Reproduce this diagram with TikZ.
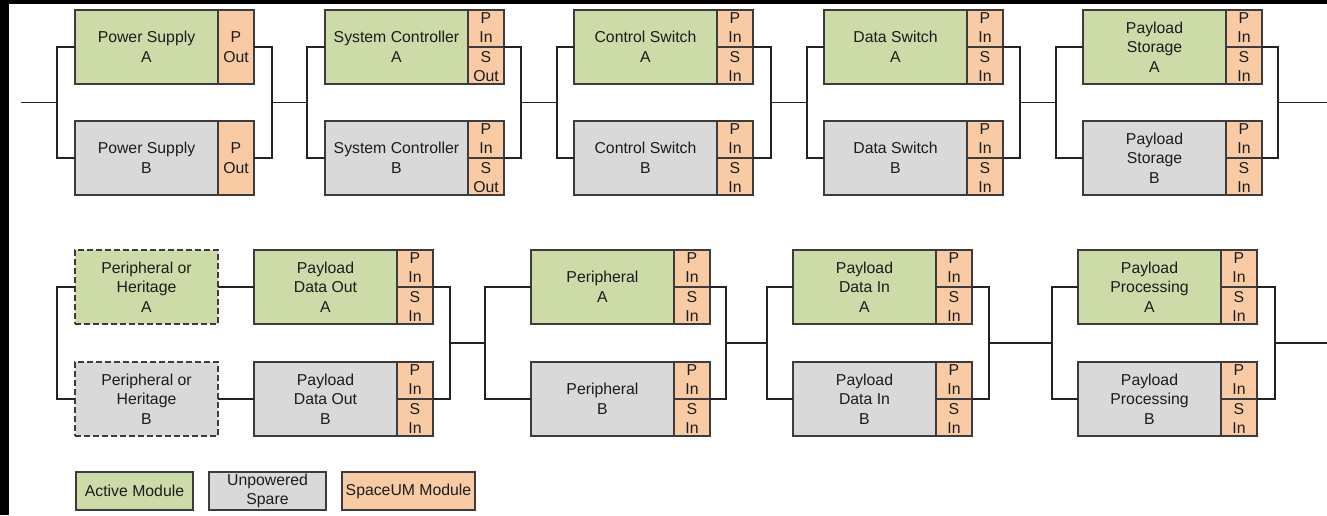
\documentclass[tikz,border=0pt]{standalone}
\usepackage{fontspec}
\setmainfont{Liberation Sans}
\definecolor{actg}{RGB}{204,219,168}
\definecolor{sprg}{RGB}{217,217,217}
\definecolor{umo}{RGB}{248,203,164}
\definecolor{edge}{RGB}{60,60,60}
\definecolor{wirec}{RGB}{35,35,35}
\definecolor{txt}{RGB}{28,28,28}
% module body + orange SpaceUM strip attached on its right
\newcommand\modbox[6]{%
  \node[#4] (#1) at (#2,#3) {#5};
  \node[um] (#1o) at (#1.north east) {#6};}
% divider line of a split SpaceUM strip
\newcommand\umsplit[1]{\draw[edge, line width=1.3pt] (#1o.west) -- (#1o.east);}
\begin{document}
\begin{tikzpicture}[x=1pt,y=-1pt,
  every node/.style={inner sep=0pt, outer sep=0pt, text=txt},
  mod/.style={draw=edge, line width=1.3pt, minimum width=143pt, minimum height=74pt,
    anchor=north west, align=center, font=\fontsize{15.8}{19.5}\selectfont},
  act/.style={mod, fill=actg},
  spr/.style={mod, fill=sprg},
  heri/.style={dash pattern=on 6pt off 3pt},
  um/.style={draw=edge, line width=1.3pt, fill=umo, minimum width=36pt, minimum height=74pt,
    anchor=north west, align=center, font=\fontsize{15.8}{19.3}\selectfont},
  key/.style={draw=edge, line width=1.3pt, minimum height=38pt, anchor=north west,
    align=center, font=\fontsize{15.8}{19.5}\selectfont},
  wire/.style={draw=wirec, line width=1.2pt},
]
\useasboundingbox (0,0) rectangle (1327,515);
\fill[white] (0,0) rectangle (1327,515);
\fill[black] (0,0) rectangle (1327,4);
\fill[black] (0,0) rectangle (8.7,515);

% ---------------- upper chain ----------------
\modbox{psA}{75}{10}{act}{Power Supply\\A}{P\\Out}
\modbox{psB}{75}{121}{spr}{Power Supply\\B}{P\\Out}
\modbox{scA}{325}{10}{act}{System Controller\\A}{P\\In\\S\\Out}
\modbox{scB}{325}{121}{spr}{System Controller\\B}{P\\In\\S\\Out}
\modbox{csA}{574}{10}{act}{Control Switch\\A}{P\\In\\S\\In}
\modbox{csB}{574}{121}{spr}{Control Switch\\B}{P\\In\\S\\In}
\modbox{dsA}{824}{10}{act}{Data Switch\\A}{P\\In\\S\\In}
\modbox{dsB}{824}{121}{spr}{Data Switch\\B}{P\\In\\S\\In}
\modbox{stA}{1083}{10}{act}{Payload\\Storage\\A}{P\\In\\S\\In}
\modbox{stB}{1083}{121}{spr}{Payload\\Storage\\B}{P\\In\\S\\In}
\umsplit{scA}\umsplit{scB}\umsplit{csA}\umsplit{csB}
\umsplit{dsA}\umsplit{dsB}\umsplit{stA}\umsplit{stB}

\coordinate (tin) at (21,102.5);
\coordinate (tl1) at (57,102.5);
\coordinate (tr1) at (272,102.5);
\coordinate (tl2) at (307,102.5);
\coordinate (tr2) at (521,102.5);
\coordinate (tl3) at (557,102.5);
\coordinate (tr3) at (771,102.5);
\coordinate (tl4) at (807,102.5);
\coordinate (tr4) at (1020,102.5);
\coordinate (tl5) at (1056,102.5);
\coordinate (tr5) at (1278,102.5);
\coordinate (tout) at (1327,102.5);

\draw[wire] (tin) -- (tl1);
\draw[wire] (psA.west) -| (tl1) |- (psB.west);
\draw[wire] (psAo.east) -| (tr1) |- (psBo.east);
\draw[wire] (tr1) -- (tl2);
\draw[wire] (scA.west) -| (tl2) |- (scB.west);
\draw[wire] (scAo.east) -| (tr2) |- (scBo.east);
\draw[wire] (tr2) -- (tl3);
\draw[wire] (csA.west) -| (tl3) |- (csB.west);
\draw[wire] (csAo.east) -| (tr3) |- (csBo.east);
\draw[wire] (tr3) -- (tl4);
\draw[wire] (dsA.west) -| (tl4) |- (dsB.west);
\draw[wire] (dsAo.east) -| (tr4) |- (dsBo.east);
\draw[wire] (tr4) -- (tl5);
\draw[wire] (stA.west) -| (tl5) |- (stB.west);
\draw[wire] (stAo.east) -| (tr5) |- (stBo.east);
\draw[wire] (tr5) -- (tout);

% ---------------- lower chain ----------------
\node[act, heri, minimum width=143pt] (hA) at (75,250) {Peripheral or\\Heritage\\A};
\node[spr, heri, minimum width=143pt] (hB) at (75,362) {Peripheral or\\Heritage\\B};
\modbox{poA}{254}{250}{act}{Payload\\Data Out\\A}{P\\In\\S\\In}
\modbox{poB}{254}{362}{spr}{Payload\\Data Out\\B}{P\\In\\S\\In}
\modbox{peA}{531}{250}{act}{Peripheral\\A}{P\\In\\S\\In}
\modbox{peB}{531}{362}{spr}{Peripheral\\B}{P\\In\\S\\In}
\modbox{piA}{793}{250}{act}{Payload\\Data In\\A}{P\\In\\S\\In}
\modbox{piB}{793}{362}{spr}{Payload\\Data In\\B}{P\\In\\S\\In}
\modbox{ppA}{1078}{250}{act}{Payload\\Processing\\A}{P\\In\\S\\In}
\modbox{ppB}{1078}{362}{spr}{Payload\\Processing\\B}{P\\In\\S\\In}
\umsplit{poA}\umsplit{poB}\umsplit{peA}\umsplit{peB}
\umsplit{piA}\umsplit{piB}\umsplit{ppA}\umsplit{ppB}

\coordinate (bl1) at (57,343);
\coordinate (br1) at (450,343);
\coordinate (bl2) at (485,343);
\coordinate (br2) at (726,343);
\coordinate (bl3) at (767,343);
\coordinate (br3) at (989,343);
\coordinate (bl4) at (1052,343);
\coordinate (br4) at (1275,343);
\coordinate (bout) at (1327,343);

\draw[wire] (hA.west) -| (bl1) |- (hB.west);
\draw[wire] (hA.east) -- (poA.west);
\draw[wire] (hB.east) -- (poB.west);
\draw[wire] (poAo.east) -| (br1) |- (poBo.east);
\draw[wire] (br1) -- (bl2);
\draw[wire] (peA.west) -| (bl2) |- (peB.west);
\draw[wire] (peAo.east) -| (br2) |- (peBo.east);
\draw[wire] (br2) -- (bl3);
\draw[wire] (piA.west) -| (bl3) |- (piB.west);
\draw[wire] (piAo.east) -| (br3) |- (piBo.east);
\draw[wire] (br3) -- (bl4);
\draw[wire] (ppA.west) -| (bl4) |- (ppB.west);
\draw[wire] (ppAo.east) -| (br4) |- (ppBo.east);
\draw[wire] (br4) -- (bout);

% ---------------- key ----------------
\node[key, fill=actg, minimum width=117pt] (kAct) at (76,472) {Active Module};
\node[key, fill=sprg, minimum width=117pt] (kSpr) at (209,472) {Unpowered\\Spare};
\node[key, fill=umo, minimum width=133pt] (kUm) at (342,472) {SpaceUM Module};
\end{tikzpicture}
\end{document}
